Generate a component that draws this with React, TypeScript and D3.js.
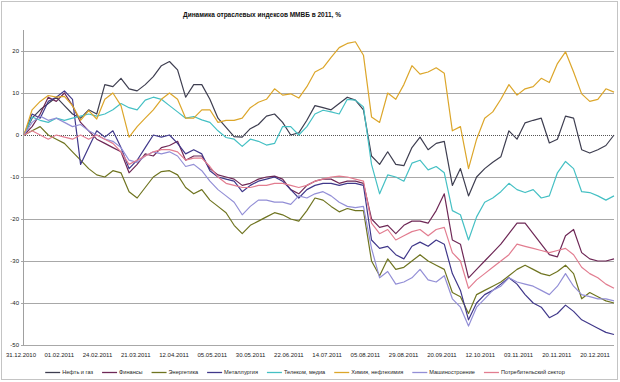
import React from "react";
import * as d3 from "d3";

const title = "Динамика отраслевых индексов ММВБ в 2011, %";
const dateLabels = ["31.12.2010","01.02.2011","24.02.2011","21.03.2011","12.04.2011","05.05.2011","30.05.2011","22.06.2011","14.07.2011","05.08.2011","29.08.2011","20.09.2011","12.10.2011","03.11.2011","20.11.2011","20.12.2011"];
const yTicks = [20, 10, 0, -10, -20, -30, -40, -50];

const oilGas = [0,4,6,7.5,9,7,5,4,6,5,12,11.5,13.5,11,10.5,12,13.9,16.5,17.5,15.5,9,12,12,8.5,4,1.8,-0.4,-0.5,1.5,2.5,4.5,5,3,0,0.5,3.5,7,6.5,6,7.5,9,8.3,6,-5,-7,-4,-7,-7.3,-3,-0.5,-3.5,-2,-1.5,-12,-8,-14.5,-10,-8,-6.5,-5.2,1,-1,2.9,3.5,4,-1.9,-1,4.5,4,-3.5,-4.3,-3.5,-2.5,0];
const finance = [0,2,5,9,8,10,7,3,1,-1,-2,-3,-4,-9,-7,-4.5,-5,-3,-2.5,-1.5,-6,-5,-5,-8,-9.5,-10,-10.5,-12,-11.5,-10.5,-10,-9.8,-10.5,-13,-14,-12,-11,-10.5,-10.5,-11.5,-11,-11,-11.5,-20,-22,-21.5,-23.5,-21.5,-20.5,-20.5,-21,-18,-14,-25,-26,-34,-32,-30,-28,-26,-23.5,-21,-21,-23.5,-26,-28.5,-29,-24,-22.5,-28,-29.5,-30,-30,-29.5];
const energy = [0,1,2,0,-1,-2,-4,-6,-8,-9.5,-10,-8.5,-9,-13.5,-15,-12.5,-10,-8.7,-8.5,-9.5,-12.5,-14,-13,-15.5,-17,-18.5,-21.5,-23.5,-21.5,-20.5,-19.5,-18.5,-19,-20,-20.5,-18,-15,-15.5,-17,-18.3,-17.5,-18,-18,-30,-33.5,-29.5,-32,-31.5,-30,-28.5,-30,-31,-32,-37.5,-38.5,-42.5,-38,-37,-36,-35,-33.5,-32,-31,-32,-33,-33.5,-32.5,-31,-33,-39,-37.5,-38.5,-39.5,-40];
const metals = [0,5,4,8,9,10.5,8.5,-7,-3,1,-0.5,1,-3,-8,-6,-3,0,-0.5,0,-2,-4.5,-3.5,-4.5,-8.5,-10,-10.5,-11,-13.5,-12,-11,-10.5,-10,-11,-13,-15,-13,-12,-11.5,-11.5,-12,-11.5,-11.5,-12,-25,-27,-26.5,-28.5,-29.5,-26.5,-25.5,-26.5,-25,-26,-33,-37,-44,-40,-38,-37,-35.5,-34,-35.5,-38,-40,-41,-43.5,-42.5,-40.5,-42,-44,-45,-46,-47,-47.5];
const telecom = [0,4.3,3.5,3,4,3.5,4,4.5,5,4.5,5,6,7.5,6.5,6,8.3,9,8.5,7,5.5,4,4.4,3.6,3,1,-0.6,-1,-2.7,-1,-1.5,-2.4,-2,2,2,0,2,5,5.9,5.5,5,8.5,8.3,6.7,-7,-14,-9.5,-10,-11,-6.7,-6,-8.3,-7.5,-9,-18,-19,-25,-19.5,-16,-15,-13.5,-11.5,-13,-13.7,-13,-15,-14.5,-9,-6.3,-8,-13.5,-13.7,-14.5,-15.5,-14.5];
const chemicals = [0,6,8,9.4,9,9.2,7,3.5,5.8,3.8,8.5,10,7,-0.5,2,4,6,8.5,10,8.5,4,4,6,6,3,3.5,3.5,4,6.5,7.8,8.5,11,9.5,9.8,8.8,11.5,15,16,18.5,20.8,21.8,22.2,19,4.3,3,10,8.5,12,16.5,14.5,15,16,14.7,1,2,-8,-1,4,5.5,8.5,12,9.5,11,11.5,13.5,12.5,17,19.8,15,9.8,8,8.5,11,10.2];
const machinery = [0,3,4.5,3.5,4,3,2,2.5,1,0,-1,-1.5,-3,-6,-6.5,-5,-4,-4.5,-4,-5,-7.5,-7,-8.5,-11,-13,-14.5,-16,-19,-17,-15.5,-15.5,-16,-16,-16.5,-14.5,-15,-14,-13.5,-14.5,-16,-17,-17.3,-17,-27,-34,-32.5,-35.5,-35,-34,-32,-34.5,-35,-33.5,-39,-41,-45.5,-41,-39,-37,-36,-34,-35,-35.5,-36,-37,-38,-36,-33,-36,-38,-38.5,-39,-39,-39.5];
const consumer = [0,1,0,-1,0,-0.5,-1,0,-1,0,-1,-2,-4,-7,-6,-5,-4,-3.5,-3.5,-4,-6,-5.5,-5.5,-7.5,-10,-11.5,-12,-12.5,-12.5,-12,-12,-11.5,-11.5,-12,-12.5,-12,-11,-10.5,-10,-9.8,-10,-10.5,-11,-21,-23.5,-22.5,-25,-24,-23,-22.5,-24,-22.5,-22,-28,-30,-36.5,-34.5,-33,-31.5,-30,-28.5,-26,-26.5,-27,-27.5,-28,-27.5,-27,-28.5,-31.5,-33,-34,-35.5,-36.5];

const seriesNames = ["Нефть и газ","Финансы","Энергетика","Металлургия","Телеком, медиа","Химия, нефтехимия","Машиностроение","Потребительский сектор"];
const seriesValues = [oilGas, finance, energy, metals, telecom, chemicals, machinery, consumer];
const seriesColors = ["#3e3e50","#6e2856","#6f7420","#40388a","#45c0c4","#dca62a","#938fd6","#e27d90"];

const W = 620, H = 382;
const FONT = "'Liberation Sans', Arial, sans-serif";

function measure(text: string, size: number, bold = false) {
  const c = document.createElement("canvas").getContext("2d");
  if (!c) return text.length * size * 0.5;
  c.font = `${bold ? "bold " : ""}${size}px 'Liberation Sans', Arial, sans-serif`;
  return c.measureText(text).width;
}

export default function App() {
  const left = 24, right = 614, top = 30, bottom = 345;
  const n = oilGas.length;
  const x = d3.scaleLinear().domain([0, n - 1]).range([left, right]);
  const y = d3.scaleLinear().domain([-50, 25]).range([bottom, top]);
  const xl = d3.scaleLinear().domain([0, dateLabels.length - 1]).range([21, 595]);
  const line = d3.line<number>().x((_, i) => x(i)).y((v) => y(v));

  // legend layout
  const lineLen = 15, gapText = 2, gapItem = 9, legFont = 5.6;
  const widths = seriesNames.map((s) => lineLen + gapText + measure(s, legFont) + gapItem);
  const total = d3.sum(widths) - gapItem;
  let cx = 305 - total / 2;
  const legendItems = seriesNames.map((s, i) => {
    const item = { name: s, x: cx, color: seriesColors[i] };
    cx += widths[i];
    return item;
  });

  return (
    <svg width={W} height={H} style={{ position: "absolute", left: 0, top: 0, background: "#fff" }} fontFamily={FONT}>
      <rect x={1.5} y={1.5} width={616} height={378} fill="#fff" stroke="#c4c4c4" />
      <text x={262} y={17} textAnchor="middle" fontSize={6.5} fontWeight="bold" fill="#111">{title}</text>
      {yTicks.map((t) => (
        <g key={t}>
          <line x1={21} x2={right} y1={Math.round(y(t)) + 0.5} y2={Math.round(y(t)) + 0.5}
            stroke={t === 0 ? "#555" : "#a8a8a8"} strokeWidth={1} strokeDasharray={t === 0 ? "1,1" : undefined} />
          <text x={19} y={y(t)} dy="0.35em" textAnchor="end" fontSize={6} fill="#222">{t}</text>
        </g>
      ))}
      <line x1={left - 0.5} x2={left - 0.5} y1={top} y2={bottom + 0.5} stroke="#a0a0a0" />
      {seriesValues.map((vals, i) => (
        <path key={i} d={line(vals) || ""} fill="none" stroke={seriesColors[i]} strokeWidth={1.2} strokeLinejoin="round" />
      ))}
      {dateLabels.map((d, i) => (
        <text key={d} x={xl(i)} y={357} textAnchor="middle" fontSize={6} fill="#222">{d}</text>
      ))}
      {legendItems.map((it) => (
        <g key={it.name}>
          <line x1={it.x} x2={it.x + lineLen} y1={372.5} y2={372.5} stroke={it.color} strokeWidth={1.3} />
          <text x={it.x + lineLen + gapText} y={372.5} dy="0.35em" fontSize={legFont} fill="#222">{it.name}</text>
        </g>
      ))}
    </svg>
  );
}
